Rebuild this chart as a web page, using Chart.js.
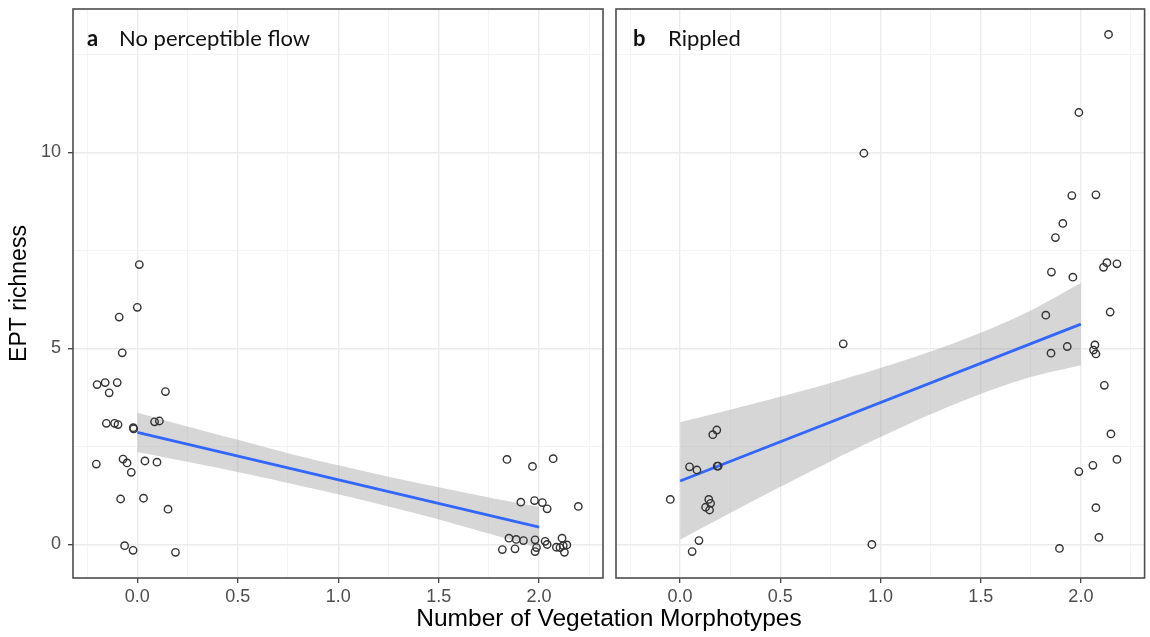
<!DOCTYPE html>
<html>
<head>
<meta charset="utf-8">
<script src="https://cdn.jsdelivr.net/npm/chart.js@4.4.1/dist/chart.umd.min.js"></script>
<style>
  html, body { margin: 0; padding: 0; background: #fff; }
  #wrap { position: relative; width: 1150px; height: 637px; overflow: hidden; }
  canvas { position: absolute; top: 0; }
  #panelA { left: 0; }
  #panelB { left: 608px; }
  .tag { position: absolute; top: 27px; font-family: Lato, "Open Sans", sans-serif; font-size: 22px; line-height: 22px; color: #111; white-space: nowrap; }
  .tag.letter { font-weight: bold; }
  #xtitle { position: absolute; left: 309px; width: 600px; top: 605px; text-align: center;
            font-family: "Liberation Sans", Arial, sans-serif; font-size: 24.5px; line-height: 26px; color: #000; }
</style>
</head>
<body>
<div id="wrap">
  <canvas id="panelA" width="612" height="610"></canvas>
  <canvas id="panelB" width="542" height="610"></canvas>
  <div class="tag letter" style="left:87px">a</div>
  <div class="tag" style="left:119px">No perceptible flow</div>
  <div class="tag letter" style="left:633px">b</div>
  <div class="tag" style="left:668px">Rippled</div>
  <div id="xtitle">Number of Vegetation Morphotypes</div>
</div>
<script>
// axes
const xMajor = [0, 0.5, 1, 1.5, 2];
const xMinor = [-0.25, 0.25, 0.75, 1.25, 1.75, 2.25];
const yMajor = [0, 5, 10];
const yMinor = [2.5, 7.5, 12.5];
const xRange = [-0.32, 2.318];
const yRange = [-0.855, 13.66];

// a: no perceptible flow (jittered observations)
const flowX = [0.01, 0.0, -0.09, -0.075, -0.2, -0.16, -0.10, -0.14, 0.14,
  -0.154, -0.113, -0.096, -0.02, -0.018, 0.086, 0.11,
  -0.204, -0.071, -0.051, -0.03, 0.038, 0.098,
  -0.083, 0.031, 0.153, -0.063, -0.021, 0.19,
  1.84, 1.967, 2.07, 1.909, 1.977, 2.016, 2.04, 2.195,
  1.85, 1.886, 1.922, 1.98, 2.03, 2.114,
  1.817, 1.88, 1.98, 1.987, 2.04, 2.086, 2.104, 2.12, 2.138, 2.126];
const flowY = [7.14, 6.05, 5.8, 4.89, 4.08, 4.13, 4.13, 3.87, 3.9,
  3.09, 3.09, 3.06, 2.98, 2.95, 3.13, 3.15,
  2.05, 2.18, 2.08, 1.84, 2.13, 2.10,
  1.16, 1.18, 0.9, -0.03, -0.15, -0.2,
  2.17, 1.99, 2.19, 1.08, 1.12, 1.07, 0.91, 0.97,
  0.16, 0.13, 0.10, 0.12, 0.08, 0.16,
  -0.13, -0.11, -0.18, -0.08, 0.0, -0.07, -0.08, -0.03, -0.01, -0.2];

// b: rippled
const rippleX = [2.138, 1.99, 0.917, 1.955, 2.075, 1.91, 1.873, 1.853, 1.96, 2.13, 2.113, 2.18,
  1.825, 2.146, 1.851, 1.932, 2.07, 2.063, 2.075, 0.814,
  2.117, 2.15, 2.18, 2.06, 1.99, 2.075, 2.09, 1.893, 0.957,
  0.183, 0.163, 0.047, 0.084, 0.185, 0.19, -0.049, 0.143, 0.152, 0.127, 0.147, 0.094, 0.06];
const rippleY = [13.01, 11.02, 9.98, 8.9, 8.92, 8.19, 7.83, 6.95, 6.82, 7.19, 7.07, 7.16,
  5.85, 5.93, 4.88, 5.05, 5.09, 4.96, 4.86, 5.12,
  4.06, 2.82, 2.17, 2.02, 1.86, 0.94, 0.18, -0.1, 0.0,
  2.92, 2.80, 1.98, 1.9, 2.0, 2.0, 1.15, 1.15, 1.05, 0.95, 0.88, 0.1, -0.18];

// linear fits with 95% confidence bands
const fitX = [0, 2];
const flowFit = [2.86, 0.44];
const rippleFit = [1.62, 5.62];
const bandX = [0, 0.25, 0.5, 0.75, 1, 1.25, 1.5, 1.75, 2];
const flowLow = [2.36, 2.11, 1.85, 1.57, 1.28, 0.97, 0.64, 0.28, -0.08];
const flowHigh = [3.36, 3.01, 2.67, 2.33, 2.02, 1.73, 1.46, 1.20, 0.96];
const rippleLow = [0.12, 0.80, 1.47, 2.12, 2.74, 3.32, 3.84, 4.27, 4.57];
const rippleHigh = [3.12, 3.44, 3.77, 4.12, 4.50, 4.92, 5.40, 5.97, 6.67];

const xy = (xs, ys) => xs.map((x, i) => ({ x: x, y: ys[i] }));
const isMajor = (list, v) => list.some(m => Math.abs(m - v) < 1e-9);

const panelBorder = {
  id: 'panelBorder',
  afterDatasetsDraw(chart) {
    const { ctx, chartArea: a } = chart;
    ctx.save();
    ctx.strokeStyle = '#4d4d4d';
    ctx.lineWidth = 1.6;
    ctx.strokeRect(a.left, a.top, a.right - a.left, a.bottom - a.top);
    ctx.restore();
  }
};

function gridOpts(major) {
  return {
    color: c => isMajor(major, c.tick ? c.tick.value : NaN) ? '#ebebeb' : '#f3f3f3',
    lineWidth: c => isMajor(major, c.tick ? c.tick.value : NaN) ? 1.4 : 0.9,
    tickLength: 5,
    tickColor: c => isMajor(major, c.tick ? c.tick.value : NaN) ? '#333' : 'rgba(0,0,0,0)',
    tickWidth: 1.2
  };
}

const tickFont = { family: '"Liberation Sans", Arial, sans-serif', size: 18 };

function makePanel(id, xs, ys, fitY, low, high, leftAxis) {
  new Chart(document.getElementById(id), {
    type: 'scatter',
    data: {
      datasets: [
        {
          data: xy(xs, ys),
          pointStyle: 'circle',
          pointRadius: 3.7,
          pointBorderWidth: 1.4,
          pointBorderColor: '#333',
          pointBackgroundColor: 'rgba(0,0,0,0)'
        },
        {
          data: xy(fitX, fitY),
          showLine: true,
          borderColor: '#3366ff',
          borderWidth: 2.8,
          pointRadius: 0
        },
        {
          data: xy(bandX, low),
          showLine: true,
          borderWidth: 0,
          borderColor: 'rgba(0,0,0,0)',
          pointRadius: 0,
          tension: 0.3
        },
        {
          data: xy(bandX, high),
          showLine: true,
          borderWidth: 0,
          borderColor: 'rgba(0,0,0,0)',
          pointRadius: 0,
          tension: 0.3,
          fill: '-1',
          backgroundColor: 'rgba(153,153,153,0.4)'
        }
      ]
    },
    options: {
      responsive: false,
      animation: false,
      layout: { padding: leftAxis ? { left: 0, top: 9, right: 9, bottom: 0 } : { left: 8, top: 9, right: 4, bottom: 0 } },
      plugins: { legend: { display: false }, tooltip: { enabled: false } },
      scales: {
        x: {
          type: 'linear',
          min: xRange[0],
          max: xRange[1],
          afterBuildTicks: s => { s.ticks = xMinor.concat(xMajor).sort((a, b) => a - b).map(v => ({ value: v })); },
          afterFit: s => { s.height = 32; s.paddingLeft = 0; s.paddingRight = 0; },
          ticks: {
            autoSkip: false,
            maxRotation: 0,
            padding: 3,
            color: '#4d4d4d',
            font: tickFont,
            callback: v => isMajor(xMajor, v) ? v.toFixed(1) : ''
          },
          grid: gridOpts(xMajor),
          border: { display: false }
        },
        y: {
          type: 'linear',
          min: yRange[0],
          max: yRange[1],
          afterBuildTicks: s => { s.ticks = yMinor.concat(yMajor).sort((a, b) => a - b).map(v => ({ value: v })); },
          afterFit: s => { s.width = leftAxis ? 73 : 0; s.paddingTop = 0; s.paddingBottom = 0; },
          ticks: {
            display: leftAxis,
            autoSkip: false,
            padding: 7,
            color: '#4d4d4d',
            font: tickFont,
            callback: v => isMajor(yMajor, v) ? String(v) : ''
          },
          grid: Object.assign(gridOpts(yMajor), { drawTicks: leftAxis }),
          border: { display: false },
          title: {
            display: leftAxis,
            text: 'EPT richness',
            color: '#000',
            padding: { top: 6, bottom: 0 },
            font: { family: '"Liberation Sans", Arial, sans-serif', size: 23 }
          }
        }
      }
    },
    plugins: [panelBorder]
  });
}

makePanel('panelA', flowX, flowY, flowFit, flowLow, flowHigh, true);
makePanel('panelB', rippleX, rippleY, rippleFit, rippleLow, rippleHigh, false);
</script>
</body>
</html>
